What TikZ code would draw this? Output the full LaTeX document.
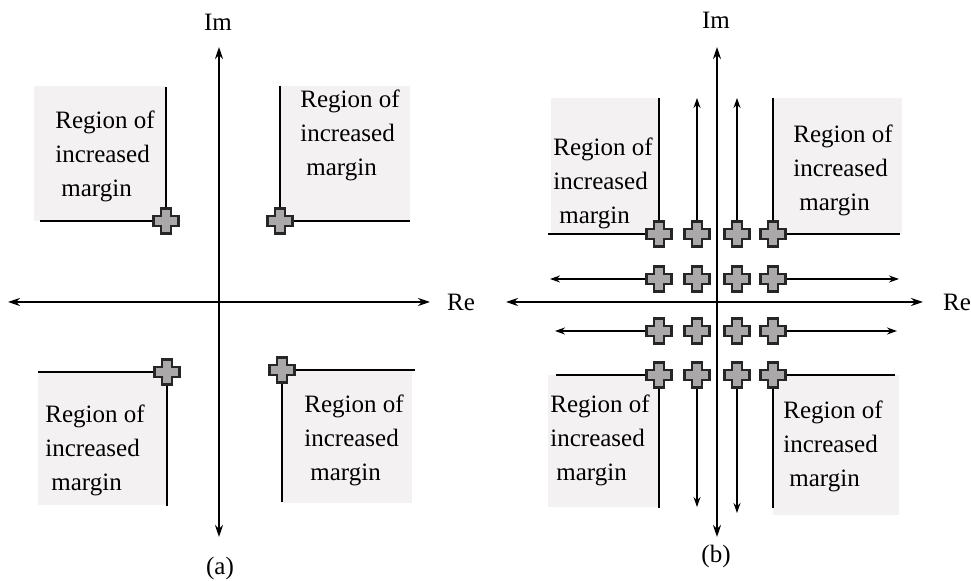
\documentclass[tikz,border=0pt]{standalone}
\usepackage{fontspec}
\setmainfont{Liberation Serif}
\newfontfamily\timesfont{Liberation Serif}
\usetikzlibrary{arrows.meta}

\definecolor{regionfill}{RGB}{243,241,241}
\definecolor{plusfill}{RGB}{170,168,168}

\tikzset{
  coordaxis/.style={line width=1pt,{Stealth[length=6pt,width=4pt]}-{Stealth[length=6pt,width=4pt]}},
  border/.style={line width=1.1pt},
  flow/.style={line width=0.75pt,-{Stealth[length=5pt,width=3.5pt]}},
  region/.style={fill=regionfill},
  regiontext/.style={anchor=north west,inner sep=0pt,align=left,font=\timesfont\fontsize{12.5}{17}\selectfont},
  axislabel/.style={font=\timesfont\fontsize{12.5}{14}\selectfont},
  plusmark/.pic={
    \draw[line width=1.3pt,draw=black!85,fill=plusfill]
      (-5,-12.5) -- (5,-12.5) -- (5,-5) -- (12.5,-5) -- (12.5,5) -- (5,5)
      -- (5,12.5) -- (-5,12.5) -- (-5,5) -- (-12.5,5) -- (-12.5,-5) -- (-5,-5) -- cycle;
  }
}

\newcommand{\regiontxt}{Region of\\increased\\\hspace{3pt}margin}

\begin{document}
\begin{tikzpicture}[x=0.5pt,y=-0.5pt]
\useasboundingbox (0,0) rectangle (971,581);

% corner marks of panel (a)
\coordinate (aTL) at (166,221);
\coordinate (aTR) at (280,221);
\coordinate (aBL) at (167,372);
\coordinate (aBR) at (282,370);

% grid of marks of panel (b)
\foreach \col/\x in {1/659,2/697,3/737,4/773}
  \foreach \row/\y in {1/234,2/279,3/331,4/375}
    \coordinate (b\row\col) at (\x,\y);

% grey regions
\fill[region] (34,86) rectangle (aTL);
\fill[region] (aTR) rectangle (410,86);
\fill[region] (38,372) rectangle (167,505);
\fill[region] (282,370) rectangle (412,503);
\fill[region] (551,98) rectangle (b11);
\fill[region] (b14) rectangle (902,98);
\fill[region] (548,375) rectangle (659,507);
\fill[region] (773,375) rectangle (899,515);

\node[regiontext] (aTLtext) at (55,111) {\regiontxt};
\node[regiontext] (aTRtext) at (300,90) {\regiontxt};
\node[regiontext] (aBLtext) at (45,405) {\regiontxt};
\node[regiontext] (aBRtext) at (304,395) {\regiontxt};
\node[regiontext] (bTLtext) at (553,138) {\regiontxt};
\node[regiontext] (bTRtext) at (793,125) {\regiontxt};
\node[regiontext] (bBLtext) at (550,395) {\regiontxt};
\node[regiontext] (bBRtext) at (783,401) {\regiontxt};

% axes
\coordinate (aW) at (8,302);
\coordinate (aE) at (430,302);
\coordinate (aN) at (219,47);
\coordinate (aS) at (219,537);
\coordinate (bW) at (506,302);
\coordinate (bE) at (923,302);
\coordinate (bN) at (717,47);
\coordinate (bS) at (717,537);
\draw[coordaxis] (aW) -- (aE);
\draw[coordaxis] (aS) -- (aN);
\draw[coordaxis] (bW) -- (bE);
\draw[coordaxis] (bS) -- (bN);

\node[axislabel] (aRe) at (461,302) {Re};
\node[axislabel] (aIm) at (218,22) {Im};
\node[axislabel] (aCap) at (220,568) {(a)};
\node[axislabel] (bRe) at (957,302) {Re};
\node[axislabel] (bIm) at (716,20) {Im};
\node[axislabel] (bCap) at (716,556) {(b)};

% region borders
\draw[border] (aTL) ++(0,-134) -- (aTL) -- ++(-126,0);
\draw[border] (aTR) ++(0,-135) -- (aTR) -- ++(130,0);
\draw[border] (aBL) ++(-129,0) -- (aBL) -- ++(0,134);
\draw[border] (aBR) ++(133,0) -- (aBR) -- ++(0,132);
\draw[border] (b11) ++(0,-136) -- (b11) -- ++(-111,0);
\draw[border] (b14) ++(0,-136) -- (b14) -- ++(127,0);
\draw[border] (b41) ++(-103,0) -- (b41) -- ++(0,133);
\draw[border] (b44) ++(122,0) -- (b44) -- ++(0,133);

% outward arrows of panel (b)
\draw[flow] (b12) -- ++(0,-136);
\draw[flow] (b13) -- ++(0,-136);
\draw[flow] (b21) -- ++(-109,0);
\draw[flow] (b31) -- ++(-104,0);
\draw[flow] (b24) -- ++(126,0);
\draw[flow] (b34) -- ++(124,0);
\draw[flow] (b42) -- ++(0,132);
\draw[flow] (b43) -- ++(0,138);

% marks
\foreach \p in {aTL,aTR,aBL,aBR}
  \pic at (\p) {plusmark};
\foreach \row in {1,...,4}
  \foreach \col in {1,...,4}
    \pic at (b\row\col) {plusmark};
\end{tikzpicture}
\end{document}
